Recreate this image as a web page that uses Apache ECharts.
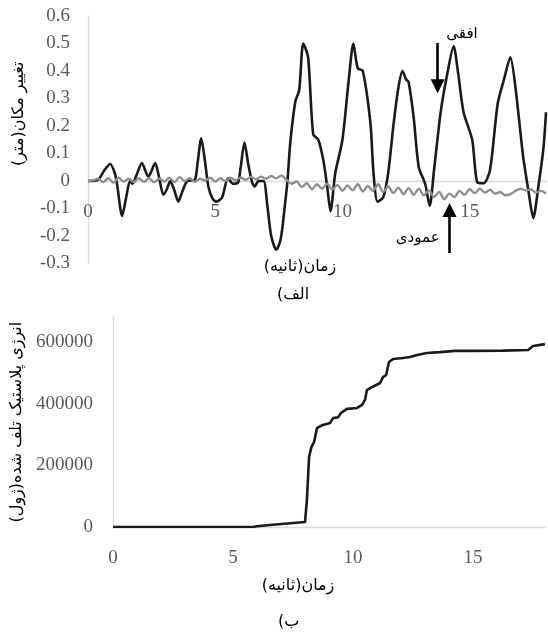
<!DOCTYPE html>
<html>
<head>
<meta charset="utf-8">
<script src="https://cdn.jsdelivr.net/npm/echarts@6/dist/echarts.min.js"></script>
<style>
  html, body { margin: 0; padding: 0; background: #ffffff; }
  #chart { width: 548px; height: 634px; }
</style>
</head>
<body>
<div id="chart"></div>
<script>
// (a) horizontal displacement, time in seconds, displacement in metres
const horizTime = [0, 0.4, 0.65, 0.87, 1.05, 1.14, 1.34, 1.5, 1.65, 1.75, 1.9, 2.12, 2.37, 2.64, 2.8, 2.96, 3.1, 3.23, 3.38, 3.55, 3.7, 3.9, 4.2, 4.3, 4.45, 4.6, 4.73, 4.9, 5.04, 5.27, 5.5, 5.7, 5.9, 6.0, 6.15, 6.3, 6.45, 6.55, 6.7, 6.9, 7.05, 7.2, 7.4, 7.55, 7.64, 7.76, 7.84, 7.95, 8.15, 8.3, 8.46, 8.65, 8.85, 9.05, 9.25, 9.4, 9.53, 9.72, 10.0, 10.25, 10.43, 10.6, 10.8, 11.1, 11.22, 11.38, 11.6, 11.8, 12.0, 12.2, 12.36, 12.5, 12.6, 12.8, 13.0, 13.25, 13.43, 13.6, 13.86, 14.1, 14.37, 14.55, 14.76, 15.1, 15.3, 15.55, 15.8, 16.1, 16.35, 16.6, 16.8, 17.1, 17.3, 17.5, 17.7, 17.9, 18.0];
const horizDisp = [0, 0.005, 0.04, 0.062, 0.03, -0.01, -0.127, -0.06, 0, -0.01, 0.02, 0.065, 0.015, 0.065, 0.01, -0.05, -0.03, 0, -0.03, -0.075, -0.04, 0, 0.005, 0.06, 0.155, 0.07, -0.02, -0.065, -0.075, -0.06, 0.01, -0.01, -0.005, 0.05, 0.14, 0.06, -0.005, -0.02, 0, 0, -0.09, -0.2, -0.25, -0.22, -0.17, -0.07, 0, 0.14, 0.29, 0.33, 0.5, 0.45, 0.17, 0.15, 0.075, -0.02, -0.11, 0.03, 0.15, 0.37, 0.5, 0.41, 0.4, 0.21, 0.03, -0.075, -0.06, 0.03, 0.2, 0.34, 0.4, 0.37, 0.36, 0.23, 0.05, -0.01, -0.09, 0.04, 0.25, 0.38, 0.49, 0.39, 0.25, 0.15, -0.005, -0.008, 0.04, 0.28, 0.37, 0.45, 0.34, 0.09, -0.03, -0.135, -0.02, 0.12, 0.25];

// (a) vertical displacement
const vertTime = [0, 0.2, 0.4, 0.6, 0.8, 1.0, 1.2, 1.4, 1.6, 1.8, 2.0, 2.2, 2.4, 2.6, 2.8, 3.0, 3.2, 3.4, 3.6, 3.8, 4.0, 4.2, 4.4, 4.6, 4.8, 5.0, 5.2, 5.4, 5.6, 5.8, 6.0, 6.2, 6.4, 6.6, 6.8, 7.0, 7.2, 7.4, 7.6, 7.8, 8.0, 8.2, 8.4, 8.6, 8.8, 9.0, 9.2, 9.4, 9.6, 9.8, 10.0, 10.2, 10.4, 10.6, 10.8, 11.0, 11.2, 11.4, 11.6, 11.8, 12.0, 12.2, 12.4, 12.6, 12.8, 13.0, 13.2, 13.4, 13.6, 13.8, 14.0, 14.2, 14.4, 14.6, 14.8, 15.0, 15.2, 15.4, 15.6, 15.8, 16.0, 16.2, 16.4, 16.6, 16.8, 17.0, 17.2, 17.4, 17.6, 17.8, 18.0];
const vertDisp = [0, 0.002, 0.008, -0.004, 0.010, -0.006, 0.012, -0.002, 0.008, -0.004, 0.010, -0.003, 0.011, -0.005, 0.009, -0.002, 0.012, -0.004, 0.014, 0.000, 0.010, -0.003, 0.008, 0.002, 0.012, -0.002, 0.010, 0.000, 0.012, 0.002, 0.013, 0.004, 0.015, 0.006, 0.016, 0.008, 0.018, 0.010, 0.020, 0.004, -0.010, -0.002, -0.022, -0.008, -0.030, -0.012, -0.028, -0.010, -0.032, -0.014, -0.036, -0.016, -0.034, -0.012, -0.038, -0.018, -0.036, -0.012, -0.040, -0.020, -0.044, -0.024, -0.048, -0.026, -0.050, -0.028, -0.052, -0.034, -0.058, -0.040, -0.066, -0.046, -0.058, -0.036, -0.050, -0.030, -0.044, -0.028, -0.042, -0.032, -0.046, -0.040, -0.052, -0.048, -0.036, -0.028, -0.034, -0.030, -0.042, -0.036, -0.046];

// (b) dissipated plastic energy, joules
const energyTime = [0, 5.83, 6.0, 6.54, 8.0, 8.08, 8.17, 8.27, 8.38, 8.5, 8.75, 9.04, 9.17, 9.38, 9.5, 9.75, 10.17, 10.38, 10.5, 10.58, 10.8, 11.13, 11.25, 11.38, 11.5, 11.67, 12.08, 12.38, 12.67, 13.08, 13.63, 14.25, 14.88, 16.25, 17.3, 17.5, 18.0];
const energyValue = [0, 0, 2500, 6500, 16000, 88000, 227000, 260000, 276000, 321000, 331000, 337000, 353000, 356000, 370000, 383000, 386000, 396000, 412000, 444000, 454000, 467000, 486000, 493000, 535000, 545000, 548000, 551000, 558000, 564000, 567000, 571000, 571000, 572000, 574000, 587000, 593000];

// axis ticks and texts
const timeTicks = { min: 0, max: 18, interval: 5 };
const dispTicks = { min: -0.3, max: 0.6, interval: 0.1 };
const energyTicks = { min: 0, max: 680000, interval: 200000 };

const RLM = '\u200F';
const rtl = s => RLM + s + RLM;
const timeName = rtl('زمان(ثانیه)');
const dispName = rtl('تغییر مکان(متر)');
const energyName = rtl('انرژی پلاستیک تلف شده(ژول)');
const captionA = rtl('الف)');
const captionB = rtl('ب)');
const horizLabel = rtl('افقی');
const vertLabel = rtl('عمودی');

// annotation arrows in data coordinates: [time, from, to]
const horizArrow = [13.74, 0.502, 0.345];
const vertArrow = [14.21, -0.262, -0.105];
const horizLabelPos = [14.7, 0.535];
const vertLabelPos = [12.96, -0.207];

const zip = (a, b) => a.map((v, i) => [v, b[i]]);

const AR_FONT = 'DejaVu Sans';
const NUM_FONT = 'Liberation Serif';
const TICK_COLOR = '#595959';
const AXIS_COLOR = '#d9d9d9';

// panel (a) layout: the time axis is lifted from the bottom edge up to the zero line
const gridA = { left: 88, top: 16, width: 458, height: 247.5 };
const zeroLift = -gridA.height * (0 - dispTicks.min) / (dispTicks.max - dispTicks.min);

const tickLabel = (extra) => Object.assign({
  fontFamily: NUM_FONT, fontSize: 19, color: TICK_COLOR
}, extra || {});

const chart = echarts.init(document.getElementById('chart'), null, { renderer: 'canvas' });

chart.setOption({
  backgroundColor: '#ffffff',
  animation: false,
  grid: [
    gridA,
    { left: 113, top: 317.3, width: 432, height: 209.7 }
  ],
  xAxis: [
    {
      type: 'value', gridIndex: 0, position: 'bottom', offset: zeroLift,
      min: timeTicks.min, max: timeTicks.max, interval: timeTicks.interval,
      axisLine: { show: true, onZero: false, lineStyle: { color: AXIS_COLOR, width: 1.3 } },
      axisTick: { show: false },
      splitLine: { show: false },
      axisLabel: tickLabel({ margin: 22, showMaxLabel: false }),
      name: timeName, nameLocation: 'middle', nameGap: 78,
      nameTextStyle: { fontFamily: AR_FONT, fontSize: 16, color: '#000', padding: [0, 34, 0, 0] }
    },
    {
      type: 'value', gridIndex: 1,
      min: timeTicks.min, max: timeTicks.max, interval: timeTicks.interval,
      axisLine: { show: true, onZero: false, lineStyle: { color: AXIS_COLOR, width: 1.3 } },
      axisTick: { show: false },
      splitLine: { show: false },
      axisLabel: tickLabel({ margin: 22, showMaxLabel: false }),
      name: timeName, nameLocation: 'middle', nameGap: 51,
      nameTextStyle: { fontFamily: AR_FONT, fontSize: 16, color: '#000', padding: [0, 62, 0, 0] }
    }
  ],
  yAxis: [
    {
      type: 'value', gridIndex: 0,
      min: dispTicks.min, max: dispTicks.max, interval: dispTicks.interval,
      axisLine: { show: true, onZero: false, lineStyle: { color: AXIS_COLOR, width: 1.3 } },
      axisTick: { show: false },
      splitLine: { show: false },
      axisLabel: tickLabel({ margin: 18 }),
      name: dispName, nameLocation: 'middle', nameGap: 61,
      nameTextStyle: { fontFamily: AR_FONT, fontSize: 16, color: '#000', padding: [0, 0, 0, 52] }
    },
    {
      type: 'value', gridIndex: 1,
      min: energyTicks.min, max: energyTicks.max, interval: energyTicks.interval,
      axisLine: { show: true, onZero: false, lineStyle: { color: AXIS_COLOR, width: 1.3 } },
      axisTick: { show: false },
      splitLine: { show: false },
      axisLabel: tickLabel({ margin: 20, showMaxLabel: false, formatter: v => String(v) }),
      name: energyName, nameLocation: 'middle', nameGap: 85,
      nameTextStyle: { fontFamily: AR_FONT, fontSize: 16, color: '#000' }
    }
  ],
  graphic: [
    {
      type: 'text', left: 277, top: 287,
      style: { text: captionA, font: '16px "' + AR_FONT + '"', fill: '#000' }
    },
    {
      type: 'text', left: 278, top: 614,
      style: { text: captionB, font: '16px "' + AR_FONT + '"', fill: '#000' }
    }
  ],
  series: [
    {
      name: 'horizontal', type: 'line', xAxisIndex: 0, yAxisIndex: 0,
      data: zip(horizTime, horizDisp),
      smooth: 0.25, showSymbol: false, silent: true,
      lineStyle: { color: '#1a1a1a', width: 2.6 },
      z: 2,
      markLine: {
        silent: true, animation: false,
        symbol: ['none', 'triangle'], symbolSize: 14,
        lineStyle: { color: '#000', width: 2.6, type: 'solid' },
        label: { show: false },
        data: [
          [{ coord: [horizArrow[0], horizArrow[1]] }, { coord: [horizArrow[0], horizArrow[2]] }],
          [{ coord: [vertArrow[0], vertArrow[1]] }, { coord: [vertArrow[0], vertArrow[2]] }]
        ]
      },
      markPoint: {
        silent: true, animation: false,
        symbol: 'circle', symbolSize: 1,
        itemStyle: { color: 'rgba(0,0,0,0)' },
        label: {
          show: true, position: 'inside', formatter: p => p.name,
          fontFamily: AR_FONT, fontSize: 15, color: '#000'
        },
        data: [
          { name: horizLabel, coord: horizLabelPos },
          { name: vertLabel, coord: vertLabelPos }
        ]
      }
    },
    {
      name: 'vertical', type: 'line', xAxisIndex: 0, yAxisIndex: 0,
      data: zip(vertTime, vertDisp),
      smooth: 0.3, showSymbol: false, silent: true,
      lineStyle: { color: '#8f8f8f', width: 2.4 },
      z: 3
    },
    {
      name: 'energy', type: 'line', xAxisIndex: 1, yAxisIndex: 1,
      data: zip(energyTime, energyValue),
      showSymbol: false, silent: true,
      lineStyle: { color: '#1a1a1a', width: 2.6 }
    }
  ]
});
</script>
</body>
</html>
